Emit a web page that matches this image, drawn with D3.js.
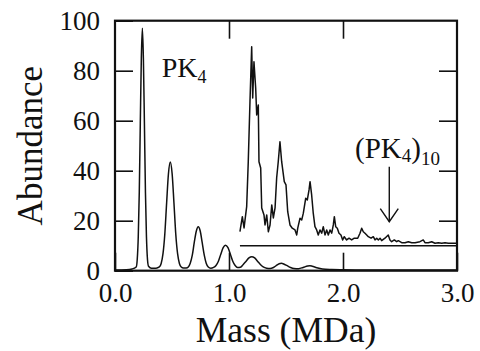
<!DOCTYPE html>
<html>
<head>
<meta charset="utf-8">
<script src="https://cdn.jsdelivr.net/npm/d3@7"></script>
<style>
  body { margin: 0; background: #fff; }
  svg text { font-family: 'Liberation Serif', 'Times New Roman', Times, serif; fill: #111; }
  .axis path { display: none; }
  .axis line { stroke: #111; stroke-width: 1.6; }
</style>
</head>
<body>
<div id="chart"></div>
<script>
// main spectrum (mass in MDa, abundance)
const mainMass = [0.00, 0.10, 0.15, 0.186, 0.195, 0.204, 0.213, 0.222, 0.231, 0.240, 0.249, 0.258, 0.267, 0.276, 0.285, 0.294, 0.32, 0.36,
  0.389, 0.405, 0.421, 0.437, 0.453, 0.469, 0.485, 0.501, 0.517, 0.533, 0.549, 0.565, 0.581, 0.60,
  0.625, 0.643, 0.66, 0.678, 0.695, 0.713, 0.73, 0.748, 0.765, 0.783, 0.80, 0.818, 0.84,
  0.865, 0.886, 0.907, 0.928, 0.949, 0.968, 0.991, 1.012, 1.033, 1.054, 1.075,
  1.10, 1.125, 1.15, 1.175, 1.20, 1.225, 1.25, 1.275, 1.30, 1.33,
  1.36, 1.39, 1.42, 1.44, 1.46, 1.48, 1.51, 1.54, 1.57,
  1.61, 1.65, 1.69, 1.71, 1.73, 1.77, 1.82, 1.9, 2.0, 2.2, 2.5, 3.0];
const mainAbund = [0.3, 0.4, 0.7, 1.5, 4.5, 13.5, 31.5, 59, 85, 97, 85, 59, 31.5, 13.5, 4.5, 1.8, 1.0, 1.0,
  1.5, 2.9, 6.8, 14.7, 27.2, 38.9, 43.5, 38.9, 27.2, 14.7, 6.8, 2.9, 1.5, 1.1,
  1.1, 1.5, 3.0, 6.2, 11.2, 15.8, 17.6, 15.8, 11.2, 6.2, 3.0, 1.5, 1.0,
  1.3, 2.1, 3.8, 6.6, 9.2, 10.2, 9.2, 6.6, 3.8, 2.1, 1.3,
  1.4, 2.5, 3.8, 5.1, 5.6, 5.1, 3.8, 2.5, 1.5, 1.0,
  0.9, 1.3, 2.2, 2.8, 3.0, 2.7, 2.0, 1.3, 0.9,
  0.8, 1.3, 1.9, 2.0, 1.8, 1.2, 0.7, 0.5, 0.4, 0.3, 0.3, 0.3];

// magnified trace above 1.1 MDa, drawn on an offset baseline
const insetMass = [1.096, 1.117, 1.132, 1.155, 1.169, 1.184, 1.199, 1.208, 1.219, 1.234, 1.243, 1.257, 1.263, 1.278, 1.287,
  1.307, 1.316, 1.331, 1.345, 1.360, 1.375, 1.389, 1.404, 1.418, 1.432, 1.447, 1.462, 1.485, 1.500, 1.515,
  1.535, 1.555, 1.579, 1.594, 1.603, 1.623, 1.638, 1.652, 1.673, 1.687, 1.702, 1.711, 1.725, 1.739, 1.754,
  1.769, 1.783, 1.798, 1.813, 1.827, 1.842, 1.857, 1.871, 1.886, 1.901, 1.915, 1.924, 1.936, 1.950, 1.965,
  1.982, 1.997, 2.011, 2.032, 2.053, 2.076, 2.099, 2.129, 2.149, 2.164, 2.178, 2.193, 2.208, 2.222, 2.246,
  2.266, 2.281, 2.296, 2.310, 2.325, 2.339, 2.368, 2.397, 2.412, 2.427, 2.450, 2.471, 2.485, 2.515, 2.544,
  2.573, 2.603, 2.632, 2.675, 2.704, 2.719, 2.748, 2.778, 2.807, 2.836, 2.866, 2.895, 2.924, 2.968, 3.0];
const insetAbund = [15.6, 21.6, 17.1, 25.6, 43.6, 67.6, 89.6, 69.1, 83.6, 73.1, 62.3, 66.3, 43.6, 41.1, 25.1,
  22.3, 18.3, 22.3, 15.6, 18.3, 26.3, 21.1, 25.1, 37.1, 43.6, 51.6, 43.6, 35.6, 34.3, 23.6,
  18.3, 17.0, 16.3, 14.3, 17.0, 21.0, 20.3, 23.0, 29.0, 28.3, 32.3, 35.6, 30.3, 23.0, 17.6,
  16.3, 14.3, 16.3, 15.0, 17.6, 14.3, 16.3, 14.3, 16.3, 15.0, 18.3, 21.6, 17.6, 17.0, 15.0,
  14.3, 12.3, 13.6, 12.3, 13.0, 12.3, 13.0, 13.0, 15.0, 17.0, 15.6, 15.0, 14.3, 13.6, 13.0,
  13.6, 12.3, 13.0, 12.3, 13.0, 12.0, 13.0, 14.3, 12.3, 11.6, 12.3, 11.6, 12.0, 11.2, 11.2,
  11.6, 11.2, 11.2, 11.6, 12.3, 11.2, 11.2, 11.6, 11.0, 11.2, 11.0, 11.2, 11.0, 11.0, 11.0];
const insetBase = 10;

const xTicks = [0, 1, 2, 3];
const yTicks = [0, 20, 40, 60, 80, 100];

const margin = { left: 115, right: 23, top: 20.7, bottom: 80.3 };
const width = 480 - margin.left - margin.right;
const height = 351 - margin.top - margin.bottom;

const svg = d3.select('#chart')
  .append('svg')
  .attr('width', 480)
  .attr('height', 351);
const g = svg.append('g')
  .attr('transform', 'translate(' + margin.left + ',' + margin.top + ')');

const x = d3.scaleLinear().domain([0, 3]).range([0, width]);
const y = d3.scaleLinear().domain([0, 100]).range([height, 0]);

// Axes (ticks point inward)
const xAxis = g.append('g')
  .attr('class', 'axis')
  .attr('transform', 'translate(0,' + height + ')')
  .call(d3.axisBottom(x).tickValues(xTicks).tickSizeInner(-18).tickSizeOuter(0).tickFormat(d3.format('.1f')));
xAxis.selectAll('text')
  .attr('y', 31).attr('dy', null)
  .style('font-size', '27px');
g.append('g')
  .attr('class', 'axis')
  .call(d3.axisTop(x).tickValues([1, 2]).tickSizeInner(-18).tickSizeOuter(0).tickFormat(''));
const yAxis = g.append('g')
  .attr('class', 'axis')
  .call(d3.axisLeft(y).tickValues(yTicks).tickSizeInner(-18).tickSizeOuter(0).tickPadding(15));
yAxis.selectAll('text').style('font-size', '27px');
g.append('g')
  .attr('class', 'axis')
  .attr('transform', 'translate(' + width + ',0)')
  .call(d3.axisRight(y).tickValues(yTicks.slice(1, -1)).tickSizeInner(-18).tickSizeOuter(0).tickFormat(''));

// Frame
g.append('rect')
  .attr('width', width)
  .attr('height', height)
  .attr('fill', 'none')
  .attr('stroke', '#111')
  .attr('stroke-width', 2.2);

// Traces
const mainLine = d3.line()
  .x((d, i) => x(mainMass[i]))
  .y(d => y(d))
  .curve(d3.curveMonotoneX);
g.append('path')
  .datum(mainAbund)
  .attr('d', mainLine)
  .attr('fill', 'none')
  .attr('stroke', '#111')
  .attr('stroke-width', 1.5);

g.append('line')
  .attr('x1', x(insetMass[0]))
  .attr('x2', x(3))
  .attr('y1', y(insetBase))
  .attr('y2', y(insetBase))
  .attr('stroke', '#111')
  .attr('stroke-width', 1.6);

const insetLine = d3.line()
  .x((d, i) => x(insetMass[i]))
  .y(d => y(d));
g.append('path')
  .datum(insetAbund)
  .attr('d', insetLine)
  .attr('fill', 'none')
  .attr('stroke', '#111')
  .attr('stroke-width', 1.5)
  .attr('stroke-linejoin', 'round');

// Labels
const pk = g.append('text')
  .attr('x', x(0.41))
  .attr('y', y(77.6))
  .style('font-size', '28px');
pk.append('tspan').text('PK');
pk.append('tspan').attr('dy', 6).style('font-size', '18px').text('4');

const pk10 = g.append('text')
  .attr('x', x(2.105))
  .attr('y', y(45))
  .style('font-size', '29px');
pk10.append('tspan').text('(PK');
pk10.append('tspan').attr('dy', 4).style('font-size', '19px').text('4');
pk10.append('tspan').attr('dy', -4).text(')');
pk10.append('tspan').attr('dy', 7).style('font-size', '19px').text('10');

// Arrow to (PK4)10
const ax = x(2.406);
const ay = y(19.6);
g.append('line')
  .attr('x1', ax).attr('x2', ax)
  .attr('y1', y(41.6)).attr('y2', ay)
  .attr('stroke', '#111').attr('stroke-width', 1.4);
g.append('path')
  .attr('d', 'M' + (ax - 9) + ',' + (ay - 13) + 'L' + ax + ',' + ay + 'L' + (ax + 9) + ',' + (ay - 13))
  .attr('fill', 'none').attr('stroke', '#111').attr('stroke-width', 1.4);

// Axis titles
svg.append('text')
  .attr('x', margin.left + width / 2)
  .attr('y', 341.7)
  .attr('text-anchor', 'middle')
  .style('font-size', '35.5px')
  .text('Mass (MDa)');
svg.append('text')
  .attr('transform', 'rotate(-90)')
  .attr('x', -(margin.top + height / 2))
  .attr('y', 42)
  .attr('text-anchor', 'middle')
  .style('font-size', '35px')
  .text('Abundance');
</script>
</body>
</html>
